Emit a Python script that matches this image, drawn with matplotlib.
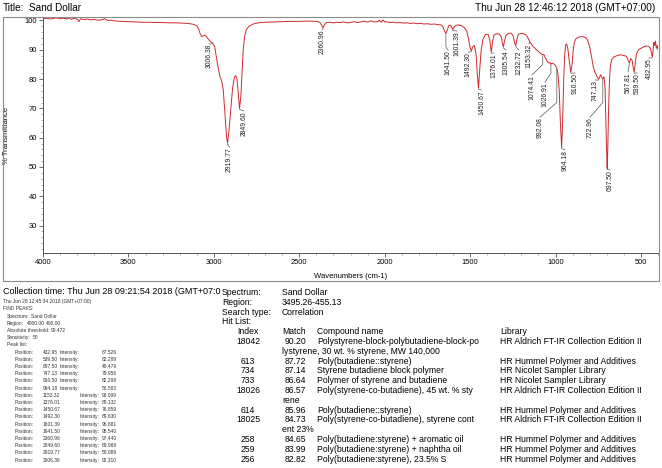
import matplotlib
matplotlib.use("Agg")
import matplotlib.pyplot as plt
from matplotlib.patches import Rectangle
from matplotlib.ticker import MultipleLocator

plt.rcParams["font.family"] = ["Liberation Sans", "DejaVu Sans"]

W, H = 662, 468

# spectrum (wavenumber cm-1, %T)
wavenumber = [
    4000, 3980, 3960, 3940, 3920, 3900, 3880, 3860, 3850, 3835, 3820, 3800, 3790, 3780,
    3760, 3740, 3720, 3700, 3680, 3660, 3640, 3620, 3600, 3570, 3540, 3500, 3460, 3420,
    3380, 3340, 3300, 3260, 3220, 3180, 3150, 3120, 3100, 3090, 3080, 3070, 3060, 3050,
    3040, 3026, 3015, 3006.38, 2995, 2985, 2975, 2965, 2955, 2945, 2935, 2925, 2919.77,
    2912, 2900, 2890, 2880, 2873, 2865, 2858, 2849.60, 2842, 2835, 2828, 2820, 2810, 2795,
    2770, 2740, 2700, 2650, 2600, 2550, 2500, 2450, 2400, 2380, 2370, 2360.96, 2352, 2340,
    2320, 2300, 2280, 2260, 2240, 2220, 2200, 2180, 2160, 2140, 2120, 2100, 2080, 2060,
    2040, 2030, 2020, 2010, 2000, 1990, 1970, 1950, 1930, 1910, 1890, 1870, 1850, 1830,
    1810, 1790, 1770, 1750, 1730, 1710, 1690, 1670, 1660, 1650, 1641.50, 1635, 1625, 1615,
    1608, 1601.39, 1595, 1585, 1570, 1550, 1535, 1520, 1510, 1500, 1492.30, 1485, 1475,
    1465, 1458, 1450.67, 1444, 1435, 1425, 1410, 1395, 1385, 1376.01, 1368, 1360, 1345,
    1330, 1318, 1310, 1305.54, 1300, 1290, 1275, 1260, 1248, 1240, 1232.72, 1226, 1218,
    1205, 1190, 1175, 1165, 1153.32, 1145, 1135, 1120, 1105, 1090, 1080, 1074.41, 1068,
    1060, 1050, 1040, 1032, 1026.91, 1020, 1010, 1000, 992.08, 985, 978, 972, 964.18, 958,
    952, 946, 940, 935, 928, 920, 910.50, 903, 897, 890, 880, 865, 850, 835, 820, 810, 800,
    790, 780, 770, 760, 752, 747.13, 742, 736, 730, 722.96, 716, 710, 705, 700, 697.50,
    694, 690, 685, 680, 672, 660, 640, 620, 600, 585, 575, 567.81, 560, 552, 545, 539.50,
    534, 526, 515, 500, 485, 470, 455, 445, 438, 432.95, 428, 424, 420, 415, 410, 405, 400,
]
transmittance = [
    100.6, 100.8, 100.5, 100.7, 100.9, 100.6, 100.8, 100.5, 100.9, 100.4, 100.7, 100.5, 99.6, 100.6,
    100.3, 100.5, 100.2, 100.4, 100.1, 100.2, 100.6, 100.0, 100.1, 99.8, 99.7, 99.6, 99.5, 99.4,
    99.4, 99.3, 99.3, 99.2, 99.2, 99.1, 99.0, 98.7, 98.2, 97.2, 95.5, 94.5, 94.8, 95.0,
    94.2, 93.2, 92.6, 92.31, 91.0, 87.5, 84.0, 81.0, 79.5, 76.5, 68.0, 60.0, 58.09,
    62.0, 70.0, 77.0, 80.5, 81.2, 80.2, 76.0, 69.97, 74.0, 82.0, 90.0, 94.5, 96.8, 98.0,
    98.8, 99.2, 99.4, 99.5, 99.6, 99.7, 99.7, 99.8, 99.7, 99.4, 98.5, 97.44, 98.6, 99.3,
    99.4, 99.2, 99.4, 99.3, 99.5, 99.2, 99.3, 99.6, 99.3, 99.5, 99.8, 99.4, 99.9, 99.5,
    99.6, 100.1, 99.4, 100.2, 99.5, 99.6, 99.3, 99.4, 99.2, 99.3, 99.1, 99.2, 99.0, 99.1,
    98.9, 99.0, 98.8, 98.9, 98.7, 98.8, 98.6, 98.5, 98.0, 96.5, 95.54, 96.5, 98.2, 98.4,
    97.8, 96.88, 97.6, 98.3, 98.5, 98.2, 97.6, 96.5, 94.0, 90.8, 89.63, 91.0, 91.5,
    88.5, 82.0, 76.86, 83.0, 90.0, 93.5, 95.2, 95.3, 93.5, 89.13, 93.0, 95.0, 95.5,
    95.4, 94.5, 92.0, 91.0, 92.5, 95.0, 95.6, 95.7, 94.8, 92.5, 91.4, 93.5, 95.2,
    95.6, 95.5, 95.2, 94.5, 93.10, 92.2, 91.4, 90.5, 89.7, 88.9, 88.5, 88.2, 88.4,
    87.3, 86.2, 85.5, 85.6, 85.0, 85.5, 85.2, 84.6, 83.6, 81.5, 76.0, 66.0, 56.58, 66.0,
    80.0, 88.5, 91.8, 92.0, 90.5, 86.5, 82.30, 85.0, 89.5, 92.5, 93.8, 94.3, 94.5, 94.4, 94.0, 93.0, 91.0,
    88.0, 84.5, 82.5, 81.2, 80.3, 79.96, 80.6, 81.5, 80.8, 80.0, 80.8, 77.0, 65.0, 54.0, 49.48,
    56.0, 68.0, 78.0, 84.0, 86.5, 87.5, 88.0, 88.3, 88.0, 87.8, 86.5, 85.5, 87.0, 86.5, 84.0, 82.29,
    85.0, 88.5, 90.0, 90.5, 91.0, 91.3, 91.2, 90.5, 89.0, 87.53, 90.0, 92.5, 91.5, 93.0, 90.5, 91.5, 90.0,
]

# labelled peaks
peak_wn = [3006.38, 2919.77, 2849.60, 2360.96, 1641.50, 1601.39, 1492.30, 1450.67,
           1376.01, 1305.54, 1232.72, 1153.32, 1074.41, 1026.91, 992.08, 964.18,
           910.50, 747.13, 722.96, 697.50, 567.81, 539.50, 432.95]
peak_t = [92.31, 58.09, 69.97, 97.44, 95.54, 96.88, 89.63, 76.86,
          89.13, 91.0, 91.4, 93.10, 88.2, 85.0, 83.6, 56.58,
          82.30, 79.96, 80.0, 49.48, 85.5, 82.29, 87.53]
# where each label sits (centre wavenumber, top %T) and optional bend of leader
label_x = [3028, 2908, 2823, 2367, 1629, 1576, 1512, 1433,
           1360, 1290, 1214, 1155, 1138, 1061, 1091, 944,
           886, 769, 798, 681, 575, 523, 453]
label_top = [92.0, 56.8, 69.1, 96.8, 89.9, 96.4, 89.2, 76.3,
             88.9, 89.9, 89.9, 92.0, 81.4, 79.0, 67.0, 55.8,
             82.1, 79.7, 67.0, 49.0, 82.4, 82.1, 87.2]
label_bend = [None, None, None, None, 91.0, None, None, None,
              None, None, None, None, 85.0, 82.0, 72.0, None,
              None, None, 72.0, None, None, None, None]

# peak list printout
list_pos = [432.95, 539.50, 697.50, 747.13, 910.50, 964.18, 1153.32, 1376.01,
            1450.67, 1492.30, 1601.39, 1641.50, 2360.96, 2849.60, 2919.77, 3006.38]
list_int = [87.526, 82.289, 49.479, 79.956, 82.298, 56.583, 93.099, 89.132,
            76.859, 89.630, 96.881, 95.540, 97.440, 69.969, 58.089, 92.310]

# library search hits
hit_index = [18042, 613, 734, 733, 18026, 614, 18025, 258, 259, 256]
hit_match = [90.20, 87.72, 87.14, 86.64, 86.57, 85.96, 84.73, 84.65, 83.99, 82.82]
hit_name = [
    "Polystyrene-block-polybutadiene-block-polystyrene, 30 wt. % styrene, MW 140,000",
    "Poly(butadiene::styrene)",
    "Styrene butadiene block polymer",
    "Polymer of styrene and butadiene",
    "Poly(styrene-co-butadiene), 45 wt. % styrene",
    "Poly(butadiene::styrene)",
    "Poly(styrene-co-butadiene), styrene content 23%",
    "Poly(butadiene:styrene) + aromatic oil",
    "Poly(butadiene:styrene) + naphtha oil",
    "Poly(butadiene:styrene), 23.5% S",
]
hit_library = [
    "HR Aldrich FT-IR Collection Edition II",
    "HR Hummel Polymer and Additives",
    "HR Nicolet Sampler Library",
    "HR Nicolet Sampler Library",
    "HR Aldrich FT-IR Collection Edition II",
    "HR Hummel Polymer and Additives",
    "HR Aldrich FT-IR Collection Edition II",
    "HR Hummel Polymer and Additives",
    "HR Hummel Polymer and Additives",
    "HR Hummel Polymer and Additives",
]


def fx(px):
    return px / W


def fy(py):
    return 1 - py / H


def put(px, py, s, size, **kw):
    return fig.text(fx(px), fy(py), s, fontsize=size, va="center", **kw)


fig = plt.figure(figsize=(W / 100, H / 100), dpi=100)

# header
put(3, 8, "Title:", 7.2)
put(29, 8, "Sand Dollar", 7.2)
put(655, 8, "Thu Jun 28 12:46:12 2018 (GMT+07:00)", 7.2, ha="right")

fig.add_artist(Rectangle((fx(3), fy(281)), fx(659) - fx(3), fy(17) - fy(281),
                         transform=fig.transFigure, fill=False, ec="#8c8c8c", lw=0.8))

ax = fig.add_axes([fx(43), fy(253), (658 - 43) / W, (253 - 18) / H])
ax.plot(wavenumber, transmittance, color="#cf2a2e", lw=0.7)
ax.set_xlim(4000, 400)
ax.set_ylim(20.65, 100.85)
for s in ["top", "right"]:
    ax.spines[s].set_visible(False)
for s in ["left", "bottom"]:
    ax.spines[s].set_color("#555555")
    ax.spines[s].set_linewidth(0.7)
ax.xaxis.set_major_locator(MultipleLocator(500))
ax.xaxis.set_minor_locator(MultipleLocator(100))
ax.yaxis.set_minor_locator(MultipleLocator(2))
ax.set_yticks([30, 40, 50, 60, 70, 80, 90, 100])
ax.tick_params(which="major", length=3, width=0.6, color="#555555", labelsize=5.4, pad=1.5)
ax.tick_params(which="minor", length=1.5, width=0.5, color="#888888")
ax.set_xlabel("Wavenumbers (cm-1)", fontsize=5.5, labelpad=5)
ax.set_ylabel("% Transmittance", fontsize=5.5)
ax.yaxis.set_label_coords(-0.054, 0.5)

for wn, t, lx, lt, lb in zip(peak_wn, peak_t, label_x, label_top, label_bend):
    xs, ys = [wn], [t - 0.3]
    if lb is not None:
        xs.append(wn)
        ys.append(lb)
    xs.append(lx)
    ys.append(lt)
    ax.plot(xs, ys, color="#444444", lw=0.45)
    ax.text(lx, lt, f"{wn:.2f}", rotation=90, fontsize=4.9, ha="center", va="top",
            color="#222222")

# collection time runs into the hit list column and is cut there
put(3, 292, "Collection time: Thu Jun 28 09:21:54 2018 (GMT+07:0", 6.45)

# peak finder printout
small = 3.5
y0, dy = 301.7, 7.2
rows = [
    [(3, "Thu Jun 28 12:45:34 2018 (GMT+07:00)")],
    [(3, "FIND PEAKS:")],
    [(7, "Spectrum:"), (31, "Sand Dollar")],
    [(7, "Region:"), (27, "4000.00"), (46, "400.00")],
    [(7, "Absolute threshold:"), (51, "99.472")],
    [(7, "Sensitivity:"), (33, "50")],
    [(7, "Peak list:")],
]
for pos, inten in zip(list_pos, list_int):
    ix = 60 if pos < 1000 else 80
    rows.append([(15, "Position:"), (43, f"{pos:.2f}"), (ix, "Intensity:"), (102, f"{inten:.3f}")])
for i, row in enumerate(rows):
    for px, s in row:
        put(px, y0 + i * dy, s, small, color="#333333")

# library search results
med = 6.2
ly0, ldy = 292.5, 9.8
head = [("Spectrum:", "Sand Dollar"), ("Region:", "3495.26-455.13"),
        ("Search type:", "Correlation"), ("Hit List:", "")]
for i, (k, v) in enumerate(head):
    put(222, ly0 + i * ldy, k, med)
    put(282, ly0 + i * ldy, v, med)
line = 4
put(248, ly0 + line * ldy, "Index", med, ha="center")
put(282, ly0 + line * ldy, "Match", med)
put(317, ly0 + line * ldy, "Compound name", med)
put(500, ly0 + line * ldy, "Library", med)
line += 1
for idx, m, name, lib in zip(hit_index, hit_match, hit_name, hit_library):
    # the report wraps compound names every 40 characters
    parts = [name[k:k + 40] for k in range(0, len(name), 40)]
    yy = ly0 + line * ldy
    put(248, yy, str(idx), med, ha="center")
    put(285, yy, f"{m:.2f}", med)
    put(317, yy, parts[0], med)
    put(500, yy, lib, med)
    line += 1
    for extra in parts[1:]:
        put(282, ly0 + line * ldy, extra, med)
        line += 1

fig.savefig("out.png", dpi=100)
